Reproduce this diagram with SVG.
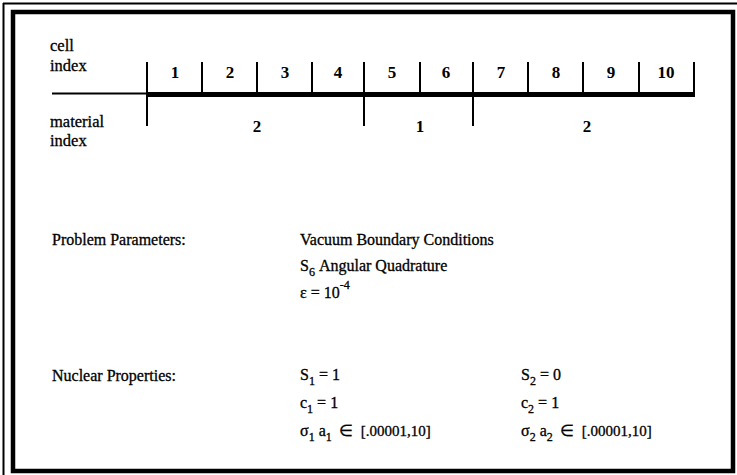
<svg xmlns="http://www.w3.org/2000/svg" width="737" height="475" viewBox="0 0 737 475">
<style>
  text { font-family: "Liberation Serif", "Times New Roman", serif; font-size: 16px; fill: #000; stroke: #000; stroke-width: 0.3; }
  .lab { font-size: 16.5px; }
  .num { font-size: 17px; font-weight: bold; text-anchor: middle; stroke-width: 0; }
  .sub { font-size: 12px; }
  .rng { font-size: 15px; }
  .tick { stroke: #000; stroke-width: 2; fill: none; }
</style>
<rect width="737" height="475" fill="#fff"/>
<g id="frame">
  <line x1="3.5" y1="3" x2="3.5" y2="475" stroke="#000" stroke-width="2"/>
  <line x1="3" y1="3.5" x2="737" y2="3.5" stroke="#000" stroke-width="2"/>
  <rect x="13" y="12" width="720" height="459" fill="none" stroke="#000" stroke-width="4.5"/>
</g>
<g id="axis-labels">
  <text class="lab" x="50" y="51">cell</text>
  <text class="lab" x="50" y="71">index</text>
  <text class="lab" x="50" y="127">material</text>
  <text class="lab" x="50" y="146">index</text>
</g>
<g id="connectors">
  <line x1="52" y1="93.5" x2="147" y2="93.5" stroke="#000" stroke-width="2"/>
  <line x1="147" y1="94.5" x2="695" y2="94.5" stroke="#000" stroke-width="5"/>
  <g class="tick">
    <line x1="147" y1="62" x2="147" y2="126"/>
    <line x1="202" y1="62" x2="202" y2="94"/>
    <line x1="257" y1="62" x2="257" y2="94"/>
    <line x1="312" y1="62" x2="312" y2="94"/>
    <line x1="364" y1="62" x2="364" y2="126"/>
    <line x1="420" y1="62" x2="420" y2="94"/>
    <line x1="473" y1="62" x2="473" y2="126"/>
    <line x1="528" y1="62" x2="528" y2="94"/>
    <line x1="583" y1="62" x2="583" y2="94"/>
    <line x1="639" y1="62" x2="639" y2="94"/>
    <line x1="694" y1="62" x2="694" y2="94"/>
  </g>
</g>
<g id="cells">
  <text class="num" x="175" y="78">1</text>
  <text class="num" x="230" y="78">2</text>
  <text class="num" x="285" y="78">3</text>
  <text class="num" x="338" y="78">4</text>
  <text class="num" x="392" y="78">5</text>
  <text class="num" x="446" y="78">6</text>
  <text class="num" x="501" y="78">7</text>
  <text class="num" x="556" y="78">8</text>
  <text class="num" x="611" y="78">9</text>
  <text class="num" x="666" y="78">10</text>
</g>
<g id="materials">
  <text class="num" x="257" y="132">2</text>
  <text class="num" x="420" y="132">1</text>
  <text class="num" x="587" y="132">2</text>
</g>
<g id="problem-parameters">
  <text x="52" y="245">Problem Parameters:</text>
  <text x="300" y="245">Vacuum Boundary Conditions</text>
  <text x="300" y="271">S<tspan class="sub" dy="5">6</tspan><tspan dy="-5" dx="4">Angular Quadrature</tspan></text>
  <text x="300" y="298">ε = 10<tspan class="sub" dy="-9">-4</tspan></text>
</g>
<g id="nuclear-properties">
  <text x="52" y="381">Nuclear Properties:</text>
  <text x="300" y="380">S<tspan class="sub" dy="5">1</tspan><tspan dy="-5"> = 1</tspan></text>
  <text x="300" y="408">c<tspan class="sub" dy="5">1</tspan><tspan dy="-5"> = 1</tspan></text>
  <text x="300" y="436">σ<tspan class="sub" dy="5">1</tspan><tspan dy="-5"> a</tspan><tspan class="sub" dy="5">1</tspan><tspan dy="-5" dx="3"> ∈</tspan><tspan class="rng" dx="8">[.00001,10]</tspan></text>
  <text x="521" y="380">S<tspan class="sub" dy="5">2</tspan><tspan dy="-5"> = 0</tspan></text>
  <text x="521" y="408">c<tspan class="sub" dy="5">2</tspan><tspan dy="-5"> = 1</tspan></text>
  <text x="521" y="436">σ<tspan class="sub" dy="5">2</tspan><tspan dy="-5"> a</tspan><tspan class="sub" dy="5">2</tspan><tspan dy="-5" dx="3"> ∈</tspan><tspan class="rng" dx="8">[.00001,10]</tspan></text>
</g>
</svg>
